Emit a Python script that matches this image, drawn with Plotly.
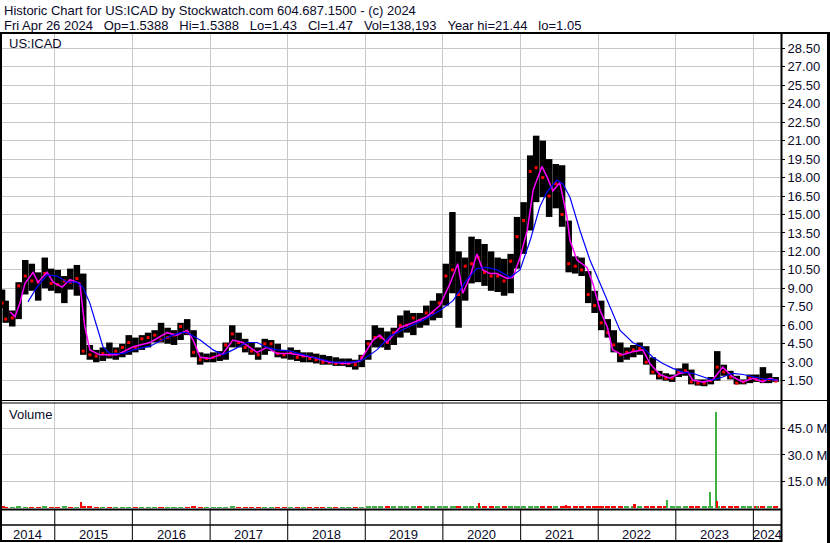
import pandas as pd
import plotly.graph_objects as go

W, H = 830, 543

# monthly bars, Apr 2014 (partial) .. Apr 2024
month_dates = ["2014-04-28"] + [
    str((d + pd.Timedelta(days=14)).date())
    for d in pd.date_range("2014-05-01", "2024-04-01", freq="MS")
]

month_high = [
    8.9, 8.0, 7.2, 9.5, 11.3, 11.0, 10.3, 11.5, 10.6,
    10.5, 10.0, 10.6, 10.9, 10.2, 4.4, 4.0, 4.2, 4.6, 4.2, 4.5, 5.2,
    5.0, 5.2, 5.4, 5.6, 6.2, 5.8, 5.6, 6.2, 6.5, 5.6, 3.8, 3.7,
    3.8, 3.9, 4.6, 6.0, 5.4, 4.9, 4.6, 4.2, 4.9, 4.8, 4.5, 4.0,
    4.2, 4.0, 3.8, 3.8, 3.7, 3.6, 3.5, 3.4, 3.3, 3.3, 3.2, 3.6,
    4.8, 6.0, 5.8, 5.5, 5.8, 6.8, 7.2, 7.0, 7.0, 7.6, 8.0, 8.6,
    11.0, 15.2, 12.0, 11.5, 13.2, 13.0, 12.6, 12.0, 11.5, 11.4, 11.8, 14.8,
    16.0, 19.8, 21.4, 21.0, 19.5, 19.1, 19.0, 14.5, 11.6, 11.5, 10.4, 8.8,
    8.0, 6.5, 5.6, 4.6, 4.2, 4.4, 4.6, 4.3, 3.4, 2.3, 2.1, 2.0,
    2.5, 2.9, 2.4, 1.6, 1.6, 1.8, 3.9, 2.8, 2.3, 1.9, 1.6, 2.0,
    2.0, 2.6, 2.1, 1.8,
]
month_low = [
    7.4, 6.2, 5.9, 6.5, 8.5, 8.8, 8.0, 9.0, 8.8,
    8.6, 7.8, 8.9, 8.4, 3.6, 3.2, 3.0, 3.1, 3.3, 3.2, 3.4, 3.6,
    3.8, 4.0, 4.2, 4.6, 4.6, 4.5, 4.4, 4.8, 5.2, 3.4, 2.8, 3.0,
    3.0, 3.1, 3.2, 4.2, 4.2, 3.8, 3.6, 3.2, 3.6, 3.9, 3.4, 3.3,
    3.2, 3.1, 3.0, 3.0, 2.9, 2.8, 2.8, 2.7, 2.7, 2.6, 2.4, 2.6,
    3.2, 4.2, 4.2, 4.0, 4.4, 5.0, 5.4, 5.2, 5.8, 6.0, 6.4, 6.6,
    7.6, 8.6, 5.8, 8.0, 9.4, 9.5, 9.2, 8.8, 8.7, 8.4, 8.6, 10.6,
    11.8, 13.7, 16.0, 16.4, 14.8, 15.5, 14.0, 10.3, 10.2, 10.0, 7.8, 7.0,
    5.6, 5.0, 3.8, 3.0, 3.2, 3.4, 3.6, 2.8, 2.0, 1.6, 1.5, 1.4,
    1.8, 1.9, 1.2, 1.1, 1.05, 1.2, 1.5, 1.9, 1.6, 1.2, 1.2, 1.3,
    1.4, 1.3, 1.3, 1.4,
]
month_close = [
    7.8, 6.5, 6.6, 9.2, 10.0, 9.6, 9.5, 10.2, 9.4,
    9.3, 9.6, 9.5, 9.8, 3.9, 3.6, 3.5, 3.7, 3.6, 3.9, 4.2, 4.6,
    4.2, 4.9, 5.0, 5.2, 4.8, 5.0, 5.2, 5.9, 5.4, 3.8, 3.2, 3.3,
    3.4, 3.6, 4.4, 5.3, 4.6, 4.2, 3.9, 3.6, 4.5, 4.5, 3.7, 3.6,
    3.8, 3.4, 3.5, 3.3, 3.2, 3.0, 3.0, 2.9, 2.9, 2.9, 2.8, 3.4,
    4.5, 5.0, 5.0, 4.6, 5.4, 6.0, 6.0, 6.6, 6.4, 7.0, 7.0, 7.8,
    10.0, 10.5, 8.5, 10.8, 11.0, 11.5, 10.3, 10.0, 10.0, 9.6, 11.2, 13.2,
    14.5, 18.5, 18.8, 18.0, 16.5, 17.5, 15.0, 11.0, 10.8, 10.5, 8.5, 7.6,
    6.2, 5.4, 4.4, 3.6, 3.8, 4.0, 4.1, 3.0, 2.2, 1.9, 1.7, 1.7,
    2.2, 2.3, 1.4, 1.3, 1.3, 1.5, 2.6, 2.2, 1.8, 1.3, 1.4, 1.7,
    1.6, 1.5, 1.6, 1.47,
]
# typical daily volume per month, millions
month_volume = [
    0.6, 0.5, 0.5, 0.6, 0.5, 0.5, 0.5, 0.6, 0.5,
    0.5, 0.6, 0.5, 0.5, 0.9, 0.6, 0.5, 0.5, 0.5, 0.5, 0.5, 0.5,
    0.5, 0.5, 0.5, 0.5, 0.5, 0.5, 0.5, 0.5, 0.5, 0.6, 0.5, 0.5,
    0.5, 0.5, 0.5, 0.6, 0.5, 0.5, 0.5, 0.5, 0.5, 0.5, 0.5, 0.5,
    0.5, 0.5, 0.5, 0.5, 0.5, 0.5, 0.5, 0.5, 0.5, 0.5, 0.5, 0.5,
    0.6, 0.7, 0.6, 0.6, 0.6, 0.6, 0.6, 0.6, 0.6, 0.6, 0.6, 0.6,
    0.7, 0.9, 0.9, 0.8, 0.8, 0.8, 0.7, 0.7, 0.7, 0.7, 0.7, 0.8,
    0.8, 0.9, 0.9, 0.8, 0.8, 0.7, 0.7, 0.9, 0.7, 0.7, 0.7, 0.7,
    0.7, 0.7, 0.7, 0.7, 0.7, 0.7, 0.7, 0.7, 0.7, 0.8, 0.8, 0.8,
    0.8, 0.8, 0.9, 0.8, 0.8, 0.8, 0.9, 0.8, 0.8, 0.8, 0.8, 0.8,
    0.8, 0.8, 0.8, 0.7,
]

# single heavy volume days, millions
spike_dates = ["2015-05-05", "2019-01-10", "2020-02-27", "2020-06-19", "2021-08-03",
               "2022-01-03", "2022-06-21", "2022-11-22", "2023-06-13", "2023-07-11",
               "2023-07-16", "2024-01-18"]
spike_volume = [3.1, 0.9, 1.0, 3.0, 1.8, 1.2, 2.5, 4.5, 9.2, 54.2, 3.9, 0.9]
spike_up = [False, True, True, False, False, False, False, True, True, True, False, True]

# moving averages
ma_short_dates = [
    "2014-06-04", "2014-06-28", "2014-07-21", "2014-08-14", "2014-09-21", "2014-10-14",
    "2014-11-26", "2014-12-24", "2015-02-05", "2015-03-13", "2015-04-29", "2015-05-22",
    "2015-06-15", "2015-08-01", "2015-10-21", "2016-01-05", "2016-03-24", "2016-06-12",
    "2016-07-29", "2016-09-15", "2016-10-13", "2016-11-15", "2017-01-02", "2017-03-02",
    "2017-04-18", "2017-06-04", "2017-08-10", "2017-09-26", "2017-11-12", "2018-01-13",
    "2018-04-29", "2018-07-18", "2018-10-07", "2018-12-07", "2019-02-07", "2019-03-10",
    "2019-04-12", "2019-06-12", "2019-08-13", "2019-10-18", "2019-12-18", "2020-02-04",
    "2020-03-11", "2020-04-04", "2020-05-07", "2020-06-09", "2020-07-07", "2020-08-10",
    "2020-09-12", "2020-10-29", "2020-11-26", "2020-12-29", "2021-02-01", "2021-03-01",
    "2021-04-11", "2021-05-04", "2021-06-02", "2021-07-04", "2021-08-07", "2021-08-21",
    "2021-09-23", "2021-11-09", "2021-12-07", "2022-01-10", "2022-02-12", "2022-03-10",
    "2022-04-26", "2022-06-12", "2022-07-30", "2022-09-01", "2022-10-18", "2022-12-04",
    "2023-01-21", "2023-02-27", "2023-03-21", "2023-05-07", "2023-06-23", "2023-08-10",
    "2023-09-26", "2023-11-13", "2023-12-30", "2024-02-15", "2024-03-18", "2024-04-25",
]
ma_short = [
    7.1, 6.7, 7.8, 9.4, 10.3, 9.5,
    10.3, 9.5, 9.1, 9.7, 9.4, 5.9,
    4.0, 3.6, 3.6, 4.25, 4.6, 5.4,
    5.2, 5.6, 4.8, 3.4, 3.3, 3.7,
    4.8, 4.6, 3.8, 4.2, 3.7, 3.7,
    3.4, 3.0, 2.9, 3.1, 4.8, 5.2,
    4.6, 5.8, 6.2, 6.7, 7.6, 9.4,
    11.0, 8.6, 9.9, 11.8, 10.5, 10.2,
    10.2, 9.8, 9.9, 11.5, 13.7, 17.0,
    18.9, 18.1, 16.9, 17.6, 14.8, 12.9,
    11.3, 10.7, 9.4, 7.2, 5.9, 4.0,
    3.6, 3.85, 4.0, 2.9, 2.0, 1.7,
    2.1, 2.2, 1.55, 1.4, 1.55, 2.6,
    1.8, 1.4, 1.7, 1.4, 1.7, 1.5,
]
ma_long_dates = [
    "2014-08-28", "2014-10-09", "2014-11-26", "2015-01-12", "2015-02-28", "2015-04-15",
    "2015-05-13", "2015-06-15", "2015-07-18", "2015-08-16", "2015-09-18", "2015-11-18",
    "2016-01-05", "2016-03-24", "2016-06-12", "2016-08-12", "2016-09-15", "2016-11-15",
    "2017-01-15", "2017-03-02", "2017-04-18", "2017-06-23", "2017-08-10", "2017-09-26",
    "2017-11-12", "2018-01-13", "2018-04-29", "2018-08-01", "2018-11-04", "2018-12-21",
    "2019-02-25", "2019-04-26", "2019-07-15", "2019-09-29", "2019-12-18", "2020-02-18",
    "2020-04-23", "2020-06-09", "2020-07-26", "2020-09-12", "2020-11-12", "2020-12-29",
    "2021-02-15", "2021-04-01", "2021-05-04", "2021-06-20", "2021-07-18", "2021-08-21",
    "2021-10-07", "2021-11-23", "2022-01-10", "2022-02-26", "2022-04-13", "2022-06-12",
    "2022-07-30", "2022-09-15", "2022-11-01", "2022-12-18", "2023-02-04", "2023-03-21",
    "2023-05-07", "2023-06-23", "2023-08-10", "2023-09-26", "2023-11-13", "2023-12-30",
    "2024-02-15", "2024-04-20",
]
ma_long = [
    7.9, 9.1, 10.1, 10.0, 9.5, 9.5,
    9.1, 7.8, 5.9, 4.25, 3.7, 3.7,
    4.0, 4.3, 5.0, 5.4, 5.4, 4.8,
    4.0, 3.6, 4.0, 4.6, 4.6, 4.2,
    4.0, 3.9, 3.4, 3.0, 3.0, 3.2,
    4.0, 5.1, 5.8, 6.4, 7.2, 8.0,
    9.7, 10.6, 10.7, 10.5, 9.9, 10.5,
    12.9, 15.6, 16.8, 17.8, 17.5, 16.4,
    13.7, 11.3, 9.4, 7.5, 5.6, 4.6,
    4.2, 3.4, 2.9, 2.5, 2.2, 2.1,
    1.8, 1.55, 1.8, 2.1, 2.0, 1.8,
    1.65, 1.55,
]

year_starts = [f"{y}-01-01" for y in range(2015, 2025)]
year_labels = [str(y) for y in range(2014, 2025)]
year_label_dates = ["2014-08-28"] + [f"{y}-07-02" for y in range(2015, 2024)] + ["2024-03-06"]

price_ticks = [1.5 * i for i in range(1, 20)]
vol_ticks = [15, 30, 45]

header1 = "Historic Chart for US:ICAD by Stockwatch.com 604.687.1500 - (c) 2024"
header2 = "\u00a0\u00a0\u00a0".join([
    "Fri Apr 26 2024", "Op=1.5388", "Hi=1.5388", "Lo=1.43",
    "Cl=1.47", "Vol=138,193", "Year hi=21.44", "lo=1.05",
])


def px(x):
    return x / W


def py(y):
    return 1 - y / H


FONT = "Liberation Sans, Arial, sans-serif"
TXT = "#0a0a2a"
GRID = "#c8c8c8"

fig = go.Figure()

bar_x, bar_y = [], []
for d, lo, hi in zip(month_dates, month_low, month_high):
    bar_x += [d, d, None]
    bar_y += [lo, hi, None]

fig.add_trace(go.Scatter(x=bar_x, y=bar_y, mode="lines",
                         line={"color": "black", "width": 6.5}, hoverinfo="skip"))
fig.add_trace(go.Scatter(x=month_dates, y=month_close, mode="markers",
                         marker={"color": "red", "size": 3, "symbol": "square"}))
fig.add_trace(go.Scatter(x=ma_short_dates, y=ma_short, mode="lines",
                         line={"color": "#ff00ff", "width": 1.5}))
fig.add_trace(go.Scatter(x=ma_long_dates, y=ma_long, mode="lines",
                         line={"color": "#0000ff", "width": 1.2}))

up = [month_close[0] >= 7.9] + [c >= p for p, c in zip(month_close[:-1], month_close[1:])]
fig.add_trace(go.Bar(
    x=month_dates, y=month_volume, yaxis="y2",
    marker={"color": ["#3cb043" if u else "#ff0000" for u in up], "line": {"width": 0}},
    width=24 * 86400000,
))
fig.add_trace(go.Bar(
    x=spike_dates, y=spike_volume, yaxis="y2",
    marker={"color": ["#3cb043" if u else "#ff0000" for u in spike_up], "line": {"width": 0}},
    width=9 * 86400000,
))

line = {"color": "black"}
shapes = [
    # header rule
    dict(type="line", xref="paper", yref="paper", x0=px(0), x1=px(830), y0=py(33), y1=py(33),
         line={**line, "width": 2}),
    # left / right borders
    dict(type="line", xref="paper", yref="paper", x0=px(1), x1=px(1), y0=py(33), y1=py(542),
         line={**line, "width": 2}),
    dict(type="line", xref="paper", yref="paper", x0=px(781.5), x1=px(781.5), y0=py(33), y1=py(542),
         line={**line, "width": 2}),
    dict(type="line", xref="paper", yref="paper", x0=px(828.5), x1=px(828.5), y0=py(33), y1=py(543),
         line={**line, "width": 3}),
    # panel separators
    dict(type="line", xref="paper", yref="paper", x0=px(0), x1=px(829), y0=py(400.5), y1=py(400.5),
         line={**line, "width": 1}),
    dict(type="line", xref="paper", yref="paper", x0=px(0), x1=px(781), y0=py(403), y1=py(403),
         line={**line, "width": 1}),
    dict(type="line", xref="paper", yref="paper", x0=px(0), x1=px(781), y0=py(509.5), y1=py(509.5),
         line={**line, "width": 2}),
    dict(type="line", xref="paper", yref="paper", x0=px(0), x1=px(781), y0=py(525), y1=py(525),
         line={**line, "width": 1.5}),
    dict(type="line", xref="paper", yref="paper", x0=px(0), x1=px(781), y0=py(541), y1=py(541),
         line={**line, "width": 2}),
]
for d in year_starts:
    shapes.append(dict(type="line", xref="x", yref="paper", x0=d, x1=d,
                       y0=py(510), y1=py(541), line={**line, "width": 1}))

annotations = [
    dict(text=header1, x=px(2), y=py(1), xanchor="left", yanchor="top"),
    dict(text=header2, x=px(2), y=py(16), xanchor="left", yanchor="top"),
    dict(text="US:ICAD", x=px(7), y=py(34), xanchor="left", yanchor="top"),
    dict(text="Volume", x=px(7), y=py(405), xanchor="left", yanchor="top"),
]
for a in annotations:
    a.update(xref="paper", yref="paper", showarrow=False,
             font={"family": FONT, "size": 13, "color": TXT})
for d, t in zip(year_label_dates, year_labels):
    annotations.append(dict(text=t, x=d, xref="x", y=py(534), yref="paper",
                            xanchor="center", yanchor="middle", showarrow=False,
                            font={"family": FONT, "size": 13, "color": TXT}))

fig.update_layout(
    width=W,
    height=H,
    margin={"l": 0, "r": 0, "t": 0, "b": 0},
    paper_bgcolor="white",
    plot_bgcolor="white",
    showlegend=False,
    bargap=0,
    barmode="overlay",
    shapes=shapes,
    annotations=annotations,
    xaxis=dict(
        domain=[px(1), px(781)], type="date",
        range=["2014-04-23", "2024-05-10"],
        tick0="2015-01-01", dtick="M12",
        showticklabels=False, ticks="",
        showgrid=True, gridcolor=GRID, gridwidth=1, zeroline=False,
        anchor="y2",
    ),
    yaxis=dict(
        domain=[py(400), py(33)], range=[-0.07, 29.74],
        side="right", anchor="x",
        tickvals=price_ticks, ticktext=[f"{v:.2f}" for v in price_ticks],
        ticks="outside", ticklen=3, tickcolor="black",
        tickfont={"family": FONT, "size": 13, "color": TXT},
        showgrid=True, gridcolor=GRID, zeroline=False,
    ),
    yaxis2=dict(
        domain=[py(509), py(402)], range=[-0.6, 60],
        side="right", anchor="x",
        tickvals=vol_ticks, ticktext=[f"{v:.1f} M" for v in vol_ticks],
        ticks="outside", ticklen=3, tickcolor="black",
        tickfont={"family": FONT, "size": 13, "color": TXT},
        showgrid=True, gridcolor=GRID, zeroline=False,
    ),
)

fig.write_html("out.html", config={"displayModeBar": False},
               post_script="document.body.style.margin='0px';")
